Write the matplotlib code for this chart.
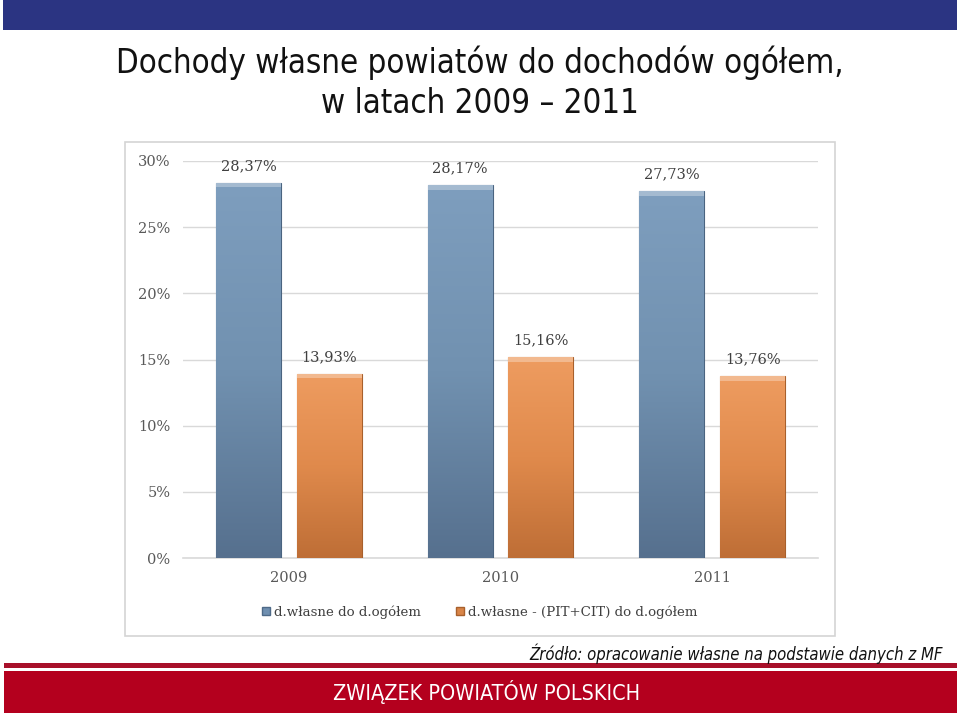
import matplotlib
matplotlib.use("Agg")
import matplotlib.pyplot as plt
import numpy as np
from matplotlib.patches import Rectangle, Patch
from matplotlib.colors import LinearSegmentedColormap

categories = ["2009", "2010", "2011"]
series_names = ["d.własne do d.ogółem", "d.własne - (PIT+CIT) do d.ogółem"]
own = [28.37, 28.17, 27.73]
own_minus = [13.93, 15.16, 13.76]
yticks = [0, 5, 10, 15, 20, 25, 30]

title_lines = "Dochody własne powiatów do dochodów ogółem,\nw latach 2009 – 2011"
source = "Źródło: opracowanie własne na podstawie danych z MF"
footer = "ZWIĄZEK POWIATÓW POLSKICH"

fig = plt.figure(figsize=(9.6, 7.16), dpi=100)
W, H = 960, 716

def fx(x): return x / W
def fy(y): return 1 - y / H

# top navy band
fig.patches.append(Rectangle((fx(3), fy(30)), fx(954), 30 / H, transform=fig.transFigure,
                             facecolor="#2B3482", edgecolor="none", zorder=-2))
# bottom red lines
fig.patches.append(Rectangle((fx(4), fy(668)), fx(953), 5 / H, transform=fig.transFigure,
                             facecolor="#A8102A", edgecolor="none", zorder=-2))
fig.patches.append(Rectangle((fx(4), fy(713)), fx(953), 42 / H, transform=fig.transFigure,
                             facecolor="#B4001E", edgecolor="none", zorder=-2))
# chart box
fig.patches.append(Rectangle((fx(125), fy(636)), fx(710), (636 - 142) / H, transform=fig.transFigure,
                             facecolor="white", edgecolor="#D4D4D4", linewidth=1.2, zorder=-2))

cond = dict(family="DejaVu Sans", fontstretch="condensed")
fig.text(0.5, fy(83), title_lines, ha="center", va="center", fontsize=23.7,
         color="#111111", linespacing=1.27, **cond)

ax = fig.add_axes([fx(183), fy(558), fx(635), (558 - 161) / H])
ax.set_facecolor("none")
ax.set_xlim(-0.5, 2.5)
ax.set_ylim(0, 30)
for s in ax.spines.values():
    s.set_visible(False)
ax.set_yticks(yticks)
ax.set_yticklabels([f"{v}%" for v in yticks], family="DejaVu Serif", fontsize=10.5, color="#595959")
ax.yaxis.grid(True, color="#D9D9D9", linewidth=1)
ax.axhline(0, color="#D9D9D9", linewidth=1.2, clip_on=False, zorder=1)
ax.set_axisbelow(True)
ax.tick_params(axis="y", length=0, pad=9)
ax.set_xticks(range(len(categories)))
ax.set_xticklabels(categories, family="DejaVu Serif", fontsize=10.5, color="#595959")
ax.tick_params(axis="x", length=0, pad=9)

x = np.arange(len(categories))
bw = 0.307
off = 0.191
b1 = ax.bar(x - off, own, bw, color="#7391AE", edgecolor="#4A6480", linewidth=0.8, zorder=2)
b2 = ax.bar(x + off, own_minus, bw, color="#E08A4C", edgecolor="#A8602C", linewidth=0.8, zorder=2)

cm_blue = LinearSegmentedColormap.from_list("b", ["#56708E", "#7191B0", "#7E9EBE"])
cm_or = LinearSegmentedColormap.from_list("o", ["#BE6E36", "#E08A4C", "#EE9C60"])
grad = np.linspace(0, 1, 256).reshape(-1, 1)
for bars, cm in ((b1, cm_blue), (b2, cm_or)):
    for p in bars:
        x0, y0 = p.get_x(), p.get_y()
        w, h = p.get_width(), p.get_height()
        im = ax.imshow(grad, extent=[x0, x0 + w, y0, y0 + h], origin="lower", cmap=cm,
                       aspect="auto", zorder=2.5)
        im.set_clip_path(p)
        ax.add_patch(Rectangle((x0, y0 + h - 0.35), w, 0.35, facecolor="white", alpha=0.3,
                               edgecolor="none", zorder=2.6))
ax.set_xlim(-0.5, 2.5)
ax.set_ylim(0, 30)

for bars, vals in ((b1, own), (b2, own_minus)):
    for p, v in zip(bars, vals):
        ax.annotate(f"{v:.2f}%".replace(".", ","), (p.get_x() + p.get_width() / 2, v),
                    xytext=(0, 7), textcoords="offset points", ha="center", va="bottom",
                    family="DejaVu Serif", fontsize=10.5, color="#404040", zorder=3)

handles = [Patch(facecolor="#6F8FB0", edgecolor="#4E6A88"),
           Patch(facecolor="#D98548", edgecolor="#A8602C")]
fig.legend(handles, series_names, loc="center", bbox_to_anchor=(0.5, fy(612)), ncol=2,
           frameon=False, prop={"family": "DejaVu Serif", "size": 9.6},
           handlelength=0.6, handleheight=0.6, handletextpad=0.3, columnspacing=2.6,
           labelcolor="#404040")

fig.text(fx(943), fy(654), source, ha="right", va="center", fontsize=12, style="italic",
         color="#111111", **cond)
fig.text(fx(487), fy(692), footer, ha="center", va="center", fontsize=15.5,
         color="white", **cond)

fig.savefig("out.png", dpi=100)
